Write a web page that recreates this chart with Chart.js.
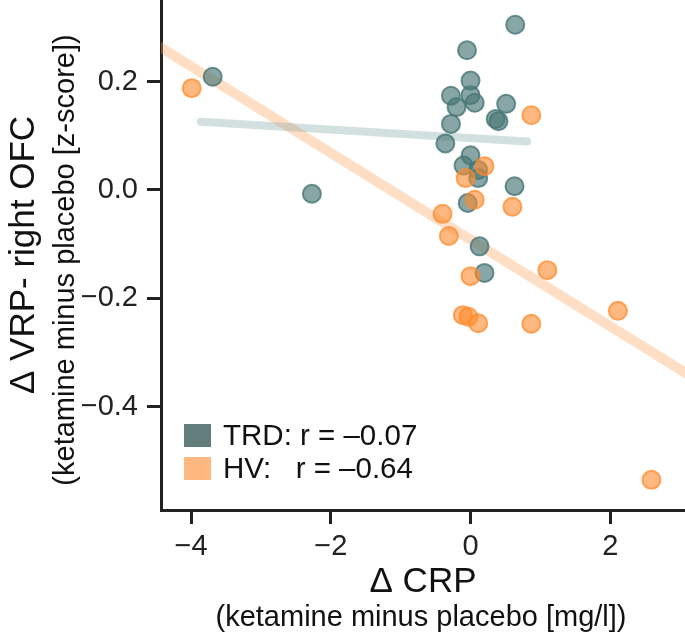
<!DOCTYPE html>
<html><head><meta charset="utf-8">
<script src="https://cdn.jsdelivr.net/npm/chart.js@4/dist/chart.umd.min.js"></script>
<style>html,body{margin:0;padding:0;background:#fff;}canvas{display:block;}</style>
</head><body>
<canvas id="c" width="685" height="640"></canvas>
<script>
// ---- data ----
const trdX = [-3.69, -2.27, 0.64, -0.05, 0.00, -0.28, 0.00, 0.06, -0.20, 0.51, 0.36, 0.40, -0.28, -0.36, 0.00, -0.10, 0.11, 0.11, 0.63, -0.04, 0.13, 0.20];
const trdY = [0.209, -0.007, 0.305, 0.258, 0.202, 0.174, 0.175, 0.161, 0.153, 0.159, 0.131, 0.127, 0.122, 0.086, 0.064, 0.045, 0.037, 0.022, 0.007, -0.024, -0.104, -0.153];
const hvX = [-3.99, 0.87, 0.20, -0.07, 0.06, 0.60, -0.40, -0.31, 0.00, 1.10, -0.11, -0.03, 0.11, 0.87, 2.11, 2.59];
const hvY = [0.188, 0.138, 0.044, 0.022, -0.018, -0.031, -0.044, -0.085, -0.159, -0.148, -0.231, -0.234, -0.246, -0.247, -0.223, -0.535];
const trdFitX = [-3.86, 0.81];
const trdFitY = [0.126, 0.0895];
const hvFitX = [-4.6, 3.2];
const hvFitY = [0.2766, -0.3474];
const xTicks = [-4, -2, 0, 2];
const xTickLabels = ['\u22124', '\u22122', '0', '2'];
const yTicks = [-0.4, -0.2, 0, 0.2];
const yTickLabels = ['\u22120.4', '\u22120.2', '0.0', '0.2'];
const legendLabels = ['TRD: r = \u20130.07', 'HV:   r = \u20130.64'];
const xTitle = '\u0394 CRP';
const xSubtitle = '(ketamine minus placebo [mg/l])';
const yTitle = '\u0394 VRP- right OFC';
const ySubtitle = '(ketamine minus placebo [z-score])';

const FONT = '"Liberation Sans", Arial, Helvetica, sans-serif';
const TEAL_SQ = '#627d7c', ORANGE_SQ = '#ffb980';

const pts = (xs, ys) => xs.map((x, i) => ({x: x, y: ys[i]}));
const noPad = s => { s.paddingTop = 0; s.paddingBottom = 0; s.paddingLeft = 0; s.paddingRight = 0; };

const extras = {
  id: 'extras',
  afterDraw(chart) {
    const ctx = chart.ctx;
    ctx.save();
    ctx.fillStyle = '#111';
    ctx.font = '29px ' + FONT;
    ctx.textAlign = 'center';
    ctx.textBaseline = 'middle';
    ctx.fillText(xSubtitle, 421, 618);
    ctx.save();
    ctx.translate(66, 260);
    ctx.rotate(-Math.PI / 2);
    ctx.fillText(ySubtitle, 0, 0);
    ctx.restore();
    // legend
    const colors = [TEAL_SQ, ORANGE_SQ];
    const ys = [424, 457];
    ctx.textAlign = 'left';
    ctx.font = '29.5px ' + FONT;
    legendLabels.forEach((t, i) => {
      ctx.fillStyle = colors[i];
      ctx.fillRect(184, ys[i], 27, 23);
      ctx.fillStyle = '#111';
      ctx.fillText(t, 223, ys[i] + 13);
    });
    ctx.restore();
  }
};

new Chart(document.getElementById('c'), {
  type: 'scatter',
  data: {
    datasets: [
      {label: 'HV', data: pts(hvX, hvY), order: 1,
       backgroundColor: 'rgba(255,138,43,0.6)', borderColor: 'rgba(255,138,43,0.75)',
       borderWidth: 2, pointRadius: 9, pointHoverRadius: 9},
      {label: 'TRD', data: pts(trdX, trdY), order: 2,
       backgroundColor: 'rgba(72,118,117,0.65)', borderColor: 'rgba(72,118,117,0.8)',
       borderWidth: 2, pointRadius: 9, pointHoverRadius: 9},
      {label: 'TRD fit', data: pts(trdFitX, trdFitY), order: 3, showLine: true,
       borderColor: 'rgba(120,160,160,0.33)', borderWidth: 8, borderCapStyle: 'round',
       pointRadius: 0, fill: false},
      {label: 'HV fit', data: pts(hvFitX, hvFitY), order: 4, showLine: true, clip: 0,
       borderColor: 'rgba(253,160,90,0.35)', borderWidth: 10, borderCapStyle: 'butt',
       pointRadius: 0, fill: false}
    ]
  },
  options: {
    responsive: false,
    animation: false,
    devicePixelRatio: 1,
    layout: {padding: 0, autoPadding: false},
    plugins: {legend: {display: false}, tooltip: {enabled: false}},
    scales: {
      x: {
        type: 'linear', min: -4.43, max: 3.07,
        afterFit: s => { s.height = 130; noPad(s); },
        afterBuildTicks: s => { s.ticks = xTicks.map(v => ({value: v})); },
        border: {display: true, width: 3, color: '#222'},
        grid: {display: true, drawOnChartArea: false, drawTicks: true, tickLength: 14, tickWidth: 3, tickColor: '#222'},
        ticks: {color: '#222', font: {family: FONT, size: 29}, padding: 6,
                callback: (v) => xTickLabels[xTicks.indexOf(v)] ?? ''},
        title: {display: true, text: xTitle, color: '#111', font: {family: FONT, size: 35}, padding: {top: 0, bottom: 37}}
      },
      y: {
        type: 'linear', min: -0.5907, max: 0.3507,
        afterFit: s => { s.width = 161; noPad(s); },
        afterBuildTicks: s => { s.ticks = yTicks.map(v => ({value: v})); },
        border: {display: true, width: 3, color: '#222'},
        grid: {display: true, drawOnChartArea: false, drawTicks: true, tickLength: 14, tickWidth: 3, tickColor: '#222'},
        ticks: {color: '#222', font: {family: FONT, size: 29}, padding: 9,
                callback: (v) => { const i = yTicks.findIndex(t => Math.abs(t - v) < 1e-9); return i >= 0 ? yTickLabels[i] : ''; }},
        title: {display: true, text: yTitle, color: '#111', font: {family: FONT, size: 35}, padding: {top: 3, bottom: 0}}
      }
    }
  },
  plugins: [extras]
});
</script>
</body></html>
